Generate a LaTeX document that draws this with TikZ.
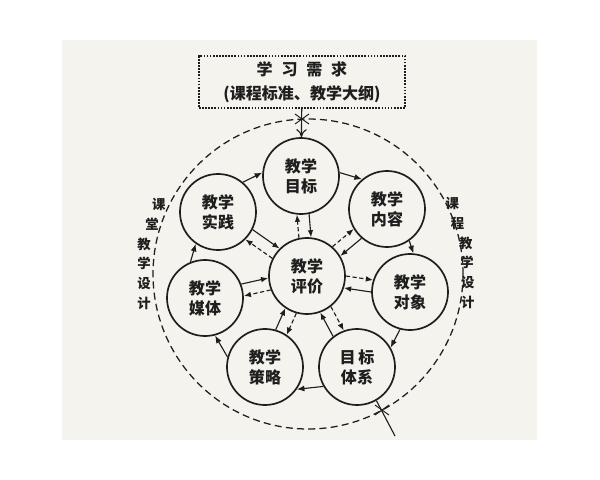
\documentclass[tikz,border=0pt]{standalone}
\usepackage{fontspec}
\setmainfont{Noto Sans CJK SC}
\usetikzlibrary{arrows.meta}
\definecolor{pagegray}{HTML}{F4F3EE}
\definecolor{ink}{HTML}{1E1E1E}
\tikzset{
  stage/.style={draw=ink, circle, line width=1.2pt, minimum size=1.9cm, inner sep=0pt, align=center, text=ink, font=\fontsize{11.4}{14.2}\selectfont\bfseries},
  ring/.style={draw=ink, line width=0.8pt, -{Latex[length=1.9mm,width=1.5mm]}},
  spoke/.style={draw=ink, line width=0.8pt, -{Latex[length=1.8mm,width=1.4mm]}},
  back/.style={spoke, dash pattern=on 3pt off 1.8pt},
  sidetext/.style={align=left, inner sep=0pt, text=ink, font=\fontsize{9.5}{14.2}\selectfont\bfseries},
  cutmark/.style={draw=ink, line width=0.7pt},
}
\begin{document}
\begin{tikzpicture}[x=0.025cm, y=-0.025cm]
\useasboundingbox (0,0) rectangle (600,480);
\fill[pagegray] (62,40) rectangle (537,440);

\node[draw=ink, densely dotted, line width=1.2pt, minimum width=5.15cm, minimum height=1.3cm, align=center, text=ink, font=\fontsize{11.4}{17}\selectfont\bfseries] (xuqiu) at (302,82) {学\hspace{0.55em}习\hspace{0.55em}需\hspace{0.55em}求\\(课程标准、教学大纲)};

\node[stage] (mubiao) at (301,176) {教学\\目标};
\node[stage] (neirong) at (387,209) {教学\\内容};
\node[stage] (duixiang) at (410,292) {教学\\对象};
\node[stage] (tixi) at (357,367) {目\,标\\体系};
\node[stage] (celue) at (265,367) {教学\\策略};
\node[stage] (meiti) at (205,298) {教学\\媒体};
\node[stage] (shijian) at (218,212) {教学\\实践};
\node[stage] (pingjia) at (307,276) {教学\\评价};

\draw[draw=ink, dash pattern=on 5pt off 3pt, line width=0.9pt] (308,274) circle (155);

\draw[ring] (mubiao.5) -- (neirong.130);
\draw[ring] (neirong.-55) -- (duixiang.85);
\draw[ring] (duixiang.-105) -- (tixi.30);
\draw[ring] (tixi.210) -- (celue.-35);
\draw[ring] (celue.165) -- (meiti.-75);
\draw[ring] (meiti.112) -- (shijian.235);
\draw[ring] (shijian.50) -- (mubiao.175);

\draw[back] (pingjia.102) -- (mubiao.264);
\draw[spoke] (mubiao.282) -- (pingjia.84);
\draw[back] (pingjia.49) -- (neirong.211);
\draw[spoke] (neirong.229) -- (pingjia.31);
\draw[back] (pingjia.0) -- (duixiang.162);
\draw[spoke] (duixiang.180) -- (pingjia.-18);
\draw[back] (pingjia.-52) -- (tixi.110);
\draw[spoke] (tixi.128) -- (pingjia.-70);
\draw[back] (pingjia.254) -- (celue.56);
\draw[spoke] (celue.74) -- (pingjia.236);
\draw[back] (pingjia.201) -- (meiti.3);
\draw[spoke] (meiti.21) -- (pingjia.183);
\draw[back] (pingjia.153) -- (shijian.315);
\draw[spoke] (shijian.333) -- (pingjia.135);

\draw[draw=ink, line width=0.8pt, -{To[length=2mm,width=2.6mm]}] (xuqiu) -- (mubiao);
\coordinate (topcut) at (302,119);
\draw[cutmark] (topcut) ++(-7,-5) -- ++(14,10);
\draw[cutmark] (topcut) ++(-7,5) -- ++(14,-10);

\coordinate (chu) at (395,436);
\draw[draw=ink, line width=0.8pt] (tixi.-60) -- (chu);
\coordinate (lowcut) at (382,410);
\draw[cutmark] (lowcut) ++(-7,-5) -- ++(14,10);
\draw[cutmark] (lowcut) ++(-7,5) -- ++(14,-10);

\node[sidetext] (ketang) at (151.5,254) {\hspace*{1.1em}课\\\hspace*{0.6em}堂\\教\\学\\设\\计};
\node[sidetext] (kecheng) at (460,253) {课\\\hspace*{0.4em}程\\\hspace*{1em}教\\\hspace*{1.1em}学\\\hspace*{1.15em}设\\\hspace*{1.15em}计};
\end{tikzpicture}
\end{document}
